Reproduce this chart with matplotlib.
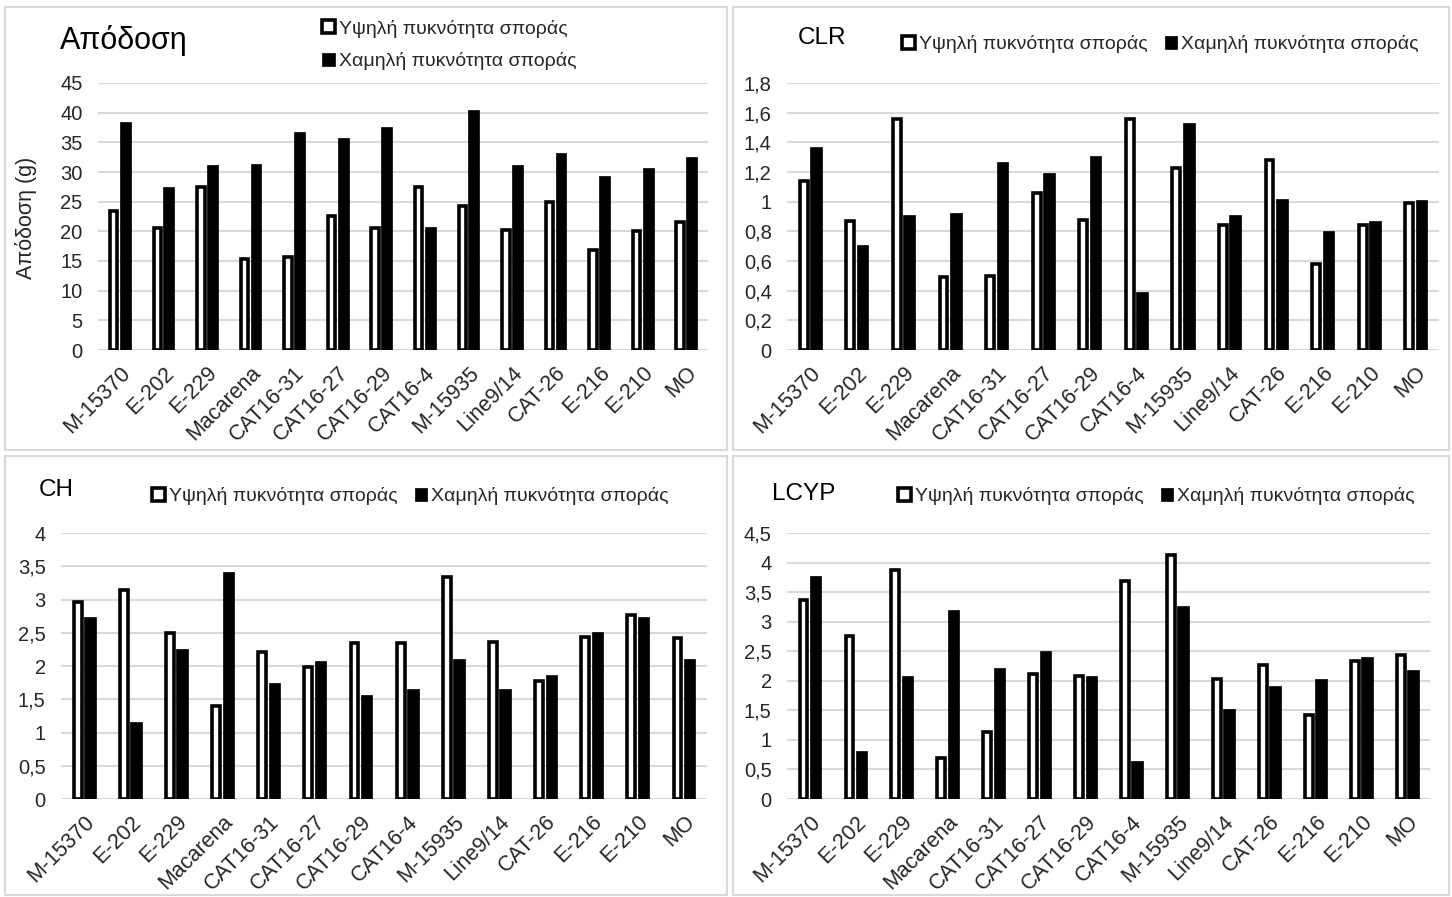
import numpy as np
import matplotlib
matplotlib.use("Agg")
import matplotlib.pyplot as plt
from matplotlib.patches import Rectangle
from matplotlib.ticker import FuncFormatter

plt.rcParams['font.family'] = ['Liberation Sans', 'DejaVu Sans']

categories = ["M-15370", "E-202", "E-229", "Macarena", "CAT16-31", "CAT16-27",
              "CAT16-29", "CAT16-4", "M-15935", "Line9/14", "CAT-26", "E-216",
              "E-210", "MO"]
series_names = ["Υψηλή πυκνότητα σποράς", "Χαμηλή πυκνότητα σποράς"]

yield_high = [23.5, 20.5, 27.4, 15.3, 15.6, 22.6, 20.5, 27.4, 24.3, 20.3, 24.9, 16.8, 20.1, 21.5]
yield_low = [38.4, 27.5, 31.2, 31.4, 36.8, 35.8, 37.6, 20.8, 40.5, 31.2, 33.2, 29.4, 30.6, 32.6]

clr_high = [1.14, 0.87, 1.56, 0.49, 0.50, 1.06, 0.875, 1.56, 1.23, 0.846, 1.28, 0.58, 0.84, 0.99]
clr_low = [1.37, 0.71, 0.91, 0.925, 1.265, 1.19, 1.31, 0.39, 1.53, 0.91, 1.02, 0.80, 0.87, 1.01]

ch_high = [2.96, 3.15, 2.49, 1.40, 2.21, 1.98, 2.35, 2.35, 3.34, 2.36, 1.77, 2.44, 2.76, 2.42]
ch_low = [2.74, 1.16, 2.25, 3.42, 1.74, 2.07, 1.56, 1.66, 2.11, 1.65, 1.86, 2.51, 2.74, 2.11]

lcyp_high = [3.37, 2.76, 3.88, 0.69, 1.13, 2.11, 2.08, 3.69, 4.12, 2.03, 2.27, 1.42, 2.33, 2.44]
lcyp_low = [3.77, 0.81, 2.08, 3.20, 2.21, 2.51, 2.08, 0.65, 3.26, 1.52, 1.92, 2.03, 2.41, 2.19]

titles = ["Απόδοση", "CLR", "CH", "LCYP"]
ylabel_yield = "Απόδοση (g)"

W, H = 1452, 897
fig = plt.figure(figsize=(W / 100, H / 100), dpi=100)
fig.patch.set_facecolor("white")


def frac_rect(x0, y0, x1, y1):
    return [x0 / W, 1 - y1 / H, (x1 - x0) / W, (y1 - y0) / H]


# panel frames
frames = [(5, 7, 727, 450), (733, 7, 1449, 450), (5, 456, 727, 895), (733, 456, 1449, 895)]
for (x0, y0, x1, y1) in frames:
    fig.patches.append(Rectangle((x0 / W, 1 - y1 / H), (x1 - x0) / W, (y1 - y0) / H,
                                 transform=fig.transFigure, facecolor="none",
                                 edgecolor="#d9d9d9", linewidth=1.5))

panels = [
    dict(rect=(98, 83, 708, 350), high=yield_high, low=yield_low, ymax=45, step=5,
         title=titles[0], tpos=(60, 40), tsize=22, leg=(322, 45), legcols=1),
    dict(rect=(787, 83, 1439, 350), high=clr_high, low=clr_low, ymax=1.8, step=0.2,
         title=titles[1], tpos=(798, 38), tsize=17.5, leg=(902, 44), legcols=2),
    dict(rect=(61, 533, 707, 799), high=ch_high, low=ch_low, ymax=4, step=0.5,
         title=titles[2], tpos=(39, 490), tsize=17.5, leg=(152, 496), legcols=2),
    dict(rect=(787, 533, 1430, 799), high=lcyp_high, low=lcyp_low, ymax=4.5, step=0.5,
         title=titles[3], tpos=(772, 494), tsize=17.5, leg=(898, 496), legcols=2),
]


def fmt(v, pos):
    s = "{:g}".format(round(v, 2))
    return s.replace(".", ",")


x = np.arange(len(categories))
for i, p in enumerate(panels):
    ax = fig.add_axes(frac_rect(*p["rect"]))
    ax.set_facecolor("none")
    b1 = ax.bar(x - 0.14, p["high"], width=0.17, facecolor="white", edgecolor="black",
                linewidth=2.6, zorder=3, label=series_names[0])
    b2 = ax.bar(x + 0.125, p["low"], width=0.25, facecolor="black", edgecolor="black",
                linewidth=0.5, zorder=3, label=series_names[1])
    ax.set_xlim(-0.5, len(categories) - 0.5)
    ax.set_ylim(0, p["ymax"])
    ax.set_yticks(np.arange(0, p["ymax"] + p["step"] / 2, p["step"]))
    ax.yaxis.set_major_formatter(FuncFormatter(fmt))
    ax.grid(axis="y", color="#d9d9d9", linewidth=1.5, zorder=0)
    ax.set_axisbelow(True)
    for s in ax.spines.values():
        s.set_visible(False)
    ax.tick_params(axis="y", length=0, pad=11, labelsize=14.5, labelcolor="#262626")
    ax.tick_params(axis="x", length=0, pad=9, labelsize=15.5, labelcolor="#262626")
    ax.set_xticks(x)
    ax.set_xticklabels(categories, rotation=45, ha="right", va="top",
                       rotation_mode="anchor")
    fig.text(p["tpos"][0] / W, 1 - p["tpos"][1] / H, p["title"], fontsize=p["tsize"],
             ha="left", va="center", color="black")
    leg = ax.legend(handles=[b1, b2], loc="center left",
                    bbox_to_anchor=(p["leg"][0] / W, 1 - p["leg"][1] / H),
                    bbox_transform=fig.transFigure, ncol=p["legcols"], frameon=False,
                    fontsize=14, handlelength=0.65, handleheight=0.65,
                    handletextpad=0.2, columnspacing=0.9, borderpad=0,
                    borderaxespad=0, labelspacing=0.75)
    for t in leg.get_texts():
        t.set_color("#262626")
    if i == 0:
        ax.set_ylabel(ylabel_yield, fontsize=15.5, color="#262626")
        ax.yaxis.set_label_coords((37 - 98) / 610, (350 - 218) / 267)

fig.savefig("out.png", dpi=100, facecolor="white")
